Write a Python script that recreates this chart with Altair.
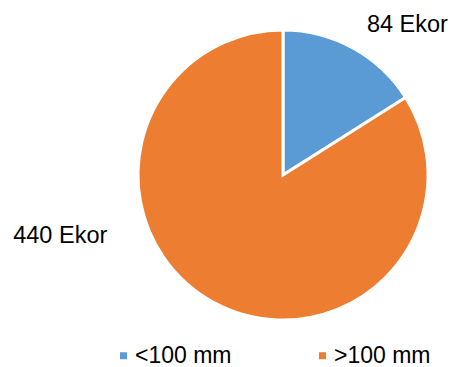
import altair as alt
import pandas as pd

categories = ["<100 mm", ">100 mm"]
counts = [84, 440]
labels = ["84 Ekor", "440 Ekor"]
colors = ["#5B9BD5", "#ED7D31"]

df = pd.DataFrame({"cat": categories, "n": counts, "label": labels, "order": [0, 1]})

FONT = "Liberation Sans"

base = alt.Chart(df).encode(
    theta=alt.Theta("n:Q", stack=True),
    order=alt.Order("order:Q"),
)

pie = base.mark_arc(outerRadius=145, stroke="white", strokeWidth=3).encode(
    color=alt.Color(
        "cat:N",
        scale=alt.Scale(domain=categories, range=colors),
        legend=alt.Legend(
            title=None,
            orient="none",
            legendX=-26,
            legendY=314,
            direction="horizontal",
            columns=2,
            columnPadding=79,
            symbolType="square",
            symbolSize=49,
            symbolStrokeWidth=0,
            symbolOpacity=1,
            labelFont=FONT,
            labelFontSize=23,
            labelColor="#000000",
            labelOffset=0,
            labelLimit=400,
            padding=0,
        ),
    )
)

t1 = base.mark_text(radius=175, dx=40, dy=3, font=FONT, fontSize=23.5, color="#000000").encode(
    text=alt.condition(alt.datum.cat == categories[0], "label:N", alt.value(""))
)
t2 = base.mark_text(radius=72, dx=-188, dy=-2, font=FONT, fontSize=23.5, color="#000000").encode(
    text=alt.condition(alt.datum.cat == categories[1], "label:N", alt.value(""))
)

chart = (
    alt.layer(pie, t1, t2)
    .properties(
        width=290,
        height=290,
        autosize=alt.AutoSizeParams(type="none"),
        padding={"left": 138, "top": 30, "right": 22, "bottom": 47},
        background="white",
    )
    .configure_view(stroke=None)
)

chart.save("out.html", embed_options={"renderer": "svg", "actions": False})
